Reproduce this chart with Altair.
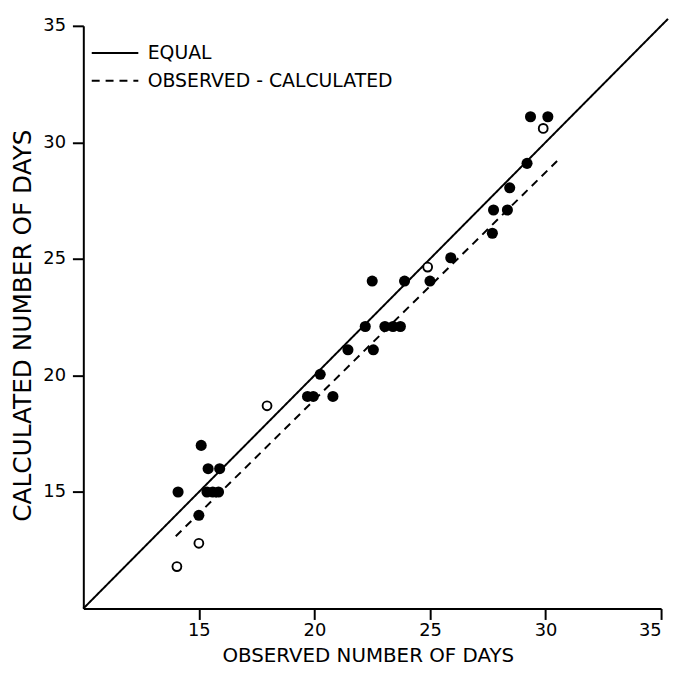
import altair as alt
import pandas as pd

# Filled circles (observed, calculated)
filled_x = [14.1, 15.1, 15.4, 15.9, 15.35, 15.6, 15.85, 15.0,
            19.7, 19.95, 20.8, 20.25, 21.45, 22.55, 22.2, 23.05, 23.4, 23.72,
            22.5, 23.9, 25.0, 25.9, 27.7, 27.75, 28.35, 28.45, 29.2, 29.35, 30.1]
filled_y = [15.0, 17.0, 16.0, 16.0, 15.0, 15.0, 15.0, 14.0,
            19.1, 19.1, 19.1, 20.05, 21.1, 21.1, 22.1, 22.1, 22.1, 22.1,
            24.05, 24.05, 24.05, 25.05, 26.1, 27.1, 27.1, 28.05, 29.1, 31.1, 31.1]

# Open circles
open_x = [14.05, 15.0, 17.95, 24.9, 29.9]
open_y = [11.8, 12.8, 18.7, 24.65, 30.6]

# Reference lines
line_series = ["EQUAL", "EQUAL", "OBSERVED - CALCULATED", "OBSERVED - CALCULATED"]
line_x = [10, 35.3, 14.0, 30.5]
line_y = [10, 35.3, 13.1, 29.2]

x_ticks = [15, 20, 25, 30, 35]
y_ticks = [15, 20, 25, 30, 35]

FONT = "DejaVu Sans"

filled_df = pd.DataFrame({"x": filled_x, "y": filled_y})
open_df = pd.DataFrame({"x": open_x, "y": open_y})
line_df = pd.DataFrame({"series": line_series, "x": line_x, "y": line_y})

xs = alt.Scale(domain=[10, 35], nice=False, zero=False)
ys = alt.Scale(domain=[10, 35], nice=False, zero=False)

x_axis = alt.Axis(values=x_ticks, title="OBSERVED NUMBER OF DAYS",
                  titleX=287, titleY=53, titleBaseline="alphabetic", titleAlign="center",
                  titleFontSize=20, titleFontWeight="normal", titleFont=FONT, titleColor="black",
                  labelFontSize=18, labelFont=FONT, labelColor="black", labelPadding=2,
                  tickSize=11, tickWidth=2, tickColor="black",
                  domainColor="black", domainWidth=2, grid=False)
y_axis = alt.Axis(values=y_ticks, title="CALCULATED NUMBER OF DAYS",
                  titleX=-53, titleY=302, titleAngle=270, titleBaseline="alphabetic", titleAlign="center",
                  titleFontSize=25, titleFontWeight="normal", titleFont=FONT, titleColor="black",
                  labelFontSize=18, labelFont=FONT, labelColor="black", labelPadding=7,
                  tickSize=11, tickWidth=2, tickColor="black",
                  domainColor="black", domainWidth=2, grid=False)

legend = alt.Legend(title=None, orient="none", legendX=-1, legendY=18, padding=0,
                    symbolType="M0,0H23.5", symbolSize=16, symbolStrokeWidth=2,
                    symbolStrokeColor="black", symbolFillColor="transparent",
                    labelFontSize=19, labelFont=FONT, labelColor="black", labelLimit=0,
                    labelOffset=47, rowPadding=8)

lines = alt.Chart(line_df).mark_line(color="black", strokeWidth=2).encode(
    x=alt.X("x:Q", scale=xs, axis=x_axis),
    y=alt.Y("y:Q", scale=ys, axis=y_axis),
    strokeDash=alt.StrokeDash("series:N",
                              scale=alt.Scale(domain=["EQUAL", "OBSERVED - CALCULATED"],
                                              range=[[1, 0], [8, 6]]),
                              legend=legend),
)

filled = alt.Chart(filled_df).mark_point(shape="circle", filled=True, color="black",
                                         size=125, opacity=1).encode(
    x=alt.X("x:Q", scale=xs), y=alt.Y("y:Q", scale=ys))

opened = alt.Chart(open_df).mark_point(shape="circle", filled=True, fill="white",
                                       stroke="black", strokeWidth=1.9, size=80,
                                       opacity=1, fillOpacity=1).encode(
    x=alt.X("x:Q", scale=xs), y=alt.Y("y:Q", scale=ys))

chart = alt.layer(lines, filled, opened).properties(
    width=583, height=588,
    padding={"left": 76, "top": 15, "right": 9, "bottom": 58},
    autosize="none",
    background="white",
).configure_view(stroke=None)

chart.save("out.html", embed_options={"renderer": "svg", "actions": False})
